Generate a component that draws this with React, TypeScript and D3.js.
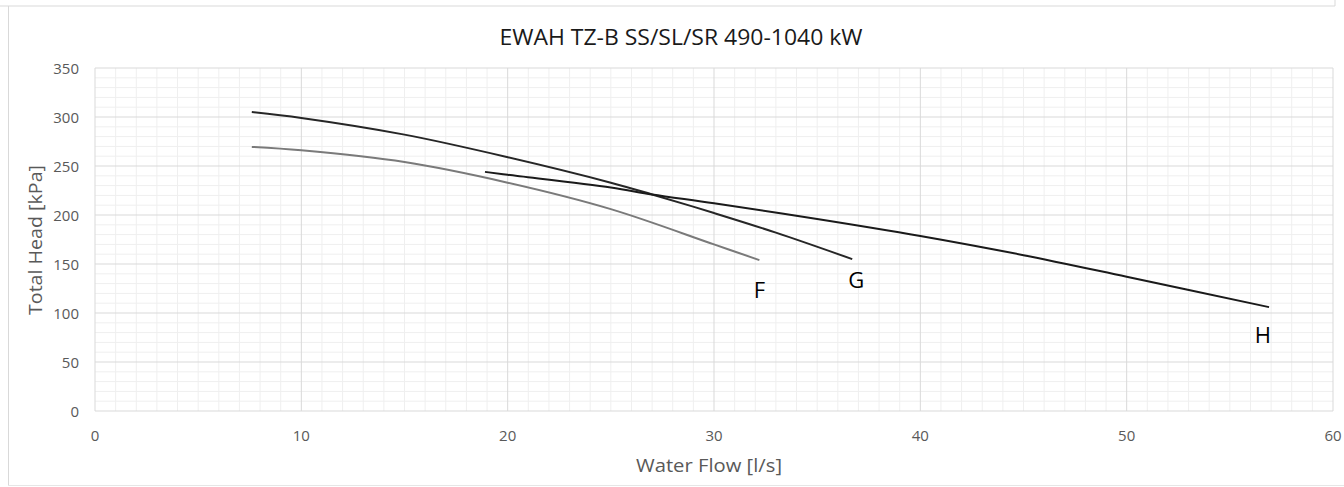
import React from "react";
import * as d3 from "d3";

const title = "EWAH TZ-B SS/SL/SR 490-1040 kW";
const xTitle = "Water Flow [l/s]";
const yTitle = "Total Head [kPa]";

const xTicks = [0, 10, 20, 30, 40, 50, 60];
const yTicks = [0, 50, 100, 150, 200, 250, 300, 350];

const fFlow = [7.6, 10, 15, 20, 25, 30, 32.2];
const fHead = [269.5, 266, 254, 233, 206, 170, 154];

const gFlow = [7.6, 10, 15, 20, 25, 27, 30, 33, 36.7];
const gHead = [305, 299, 282, 259, 233, 221, 202, 182, 155];

const hFlow = [18.9, 20, 25, 27, 30, 35, 40, 45, 50, 56.9];
const hHead = [244, 241, 228, 221, 212, 196, 178.6, 159, 137, 106];

const curveLabels = ["F", "G", "H"];
const labelFlow = [32.2, 36.9, 56.6];
const labelHead = [124, 135, 79];

export default function App() {
  const W = 1344, H = 487;
  const x = d3.scaleLinear().domain([0, 60]).range([95, 1333]);
  const y = d3.scaleLinear().domain([0, 350]).range([411, 68]);
  const line = d3
    .line<[number, number]>()
    .x((d) => x(d[0]))
    .y((d) => y(d[1]))
    .curve(d3.curveCatmullRom.alpha(0.5));

  const series = [
    { flow: fFlow, head: fHead, color: "#7a7a7a" },
    { flow: gFlow, head: gHead, color: "#262626" },
    { flow: hFlow, head: hHead, color: "#1a1a1a" },
  ];

  const minorX = d3.range(0, 61, 1).filter((v) => v % 10 !== 0);
  const minorY = d3.range(0, 351, 10).filter((v) => v % 50 !== 0);
  const font = "'Open Sans', 'Liberation Sans', sans-serif";

  return (
    <svg
      width={W}
      height={H}
      style={{ position: "absolute", left: 0, top: 0, background: "#fff" }}
      fontFamily={font}
    >
      <rect x={0} y={0} width={W} height={H} fill="#fff" />
      {/* outer frame */}
      <line x1={0} x2={1335} y1={6} y2={6} stroke="#d9d9d9" />
      <line x1={1335} x2={1335} y1={0} y2={6} stroke="#d9d9d9" />
      <line x1={8.5} x2={8.5} y1={6} y2={485} stroke="#d9d9d9" />
      <line x1={8} x2={W} y1={485.5} y2={485.5} stroke="#e6e6e6" />

      {/* minor grid */}
      {minorX.map((v) => (
        <line key={"mx" + v} x1={x(v)} x2={x(v)} y1={y(0)} y2={y(350)} stroke="#efefef" />
      ))}
      {minorY.map((v) => (
        <line key={"my" + v} x1={x(0)} x2={x(60)} y1={y(v)} y2={y(v)} stroke="#efefef" />
      ))}
      {/* major grid */}
      {xTicks.map((v) => (
        <line key={"gx" + v} x1={x(v)} x2={x(v)} y1={y(0)} y2={y(350)} stroke="#d9d9d9" />
      ))}
      {yTicks.map((v) => (
        <line key={"gy" + v} x1={x(0)} x2={x(60)} y1={y(v)} y2={y(v)} stroke="#d9d9d9" />
      ))}

      {/* curves */}
      {series.map((s, i) => (
        <path
          key={"s" + i}
          d={line(s.flow.map((f, j) => [f, s.head[j]] as [number, number])) || ""}
          fill="none"
          stroke={s.color}
          strokeWidth={2}
        />
      ))}

      {/* curve labels */}
      {curveLabels.map((t, i) => (
        <text
          key={"l" + t}
          x={x(labelFlow[i])}
          y={y(labelHead[i])}
          textAnchor="middle"
          dominantBaseline="central"
          fontSize={22}
          fill="#000"
        >
          {t}
        </text>
      ))}

      {/* ticks */}
      {xTicks.map((v) => (
        <text key={"tx" + v} x={x(v)} y={441} textAnchor="middle" fontSize={15} fill="#595959">
          {v}
        </text>
      ))}
      {yTicks.map((v) => (
        <text
          key={"ty" + v}
          x={79}
          y={y(v)}
          textAnchor="end"
          dominantBaseline="central"
          fontSize={15}
          fill="#595959"
        >
          {v}
        </text>
      ))}

      {/* titles */}
      <text x={681} y={45} textAnchor="middle" fontSize={21} fill="#1a1a1a" textLength={363} lengthAdjust="spacingAndGlyphs">
        {title}
      </text>
      <text x={709} y={472} textAnchor="middle" fontSize={18} fill="#595959" textLength={146} lengthAdjust="spacingAndGlyphs">
        {xTitle}
      </text>
      <text
        transform="translate(42,240) rotate(-90)"
        textAnchor="middle"
        fontSize={18}
        fill="#595959"
        textLength={150}
        lengthAdjust="spacingAndGlyphs"
      >
        {yTitle}
      </text>
    </svg>
  );
}
